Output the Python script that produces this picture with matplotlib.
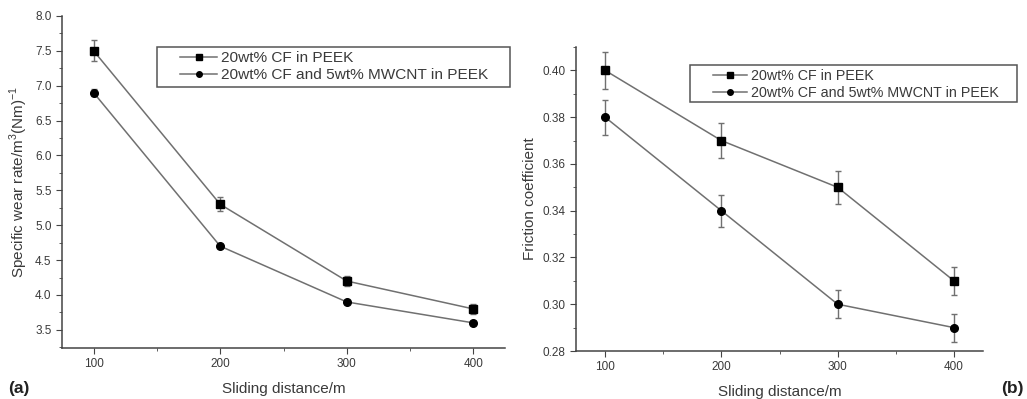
import numpy as np
import matplotlib
matplotlib.use("Agg")
import matplotlib.pyplot as plt
from matplotlib.ticker import MultipleLocator, FormatStrFormatter
from matplotlib.lines import Line2D
from matplotlib.patches import Rectangle

plt.rcParams["font.family"] = ["Liberation Sans", "DejaVu Sans"]
plt.rcParams["mathtext.fontset"] = "custom"
plt.rcParams["mathtext.rm"] = "Liberation Sans"

# data
distance = [100, 200, 300, 400]
labels = ["20wt% CF in PEEK", "20wt% CF and 5wt% MWCNT in PEEK"]
markers = ["s", "o"]

wear_cf = [7.5, 5.3, 4.2, 3.8]
wear_cf_err = [0.15, 0.10, 0.07, 0.07]
wear_cnt = [6.9, 4.7, 3.9, 3.6]
wear_cnt_err = [0.05, 0.03, 0.03, 0.03]

fric_cf = [0.40, 0.37, 0.35, 0.31]
fric_cf_err = [0.008, 0.0075, 0.007, 0.006]
fric_cnt = [0.38, 0.34, 0.30, 0.29]
fric_cnt_err = [0.0075, 0.0068, 0.006, 0.006]

text_c = "#3a3a3a"
line_c = "#707070"
W, H = 1027, 399

fig = plt.figure(figsize=(W / 100, H / 100), dpi=100)
ax1 = fig.add_axes([62 / W, 1 - 348 / H, 443 / W, 332 / H])
ax2 = fig.add_axes([576 / W, 1 - 351 / H, 407 / W, 304 / H])


def draw(ax, y1, e1, y2, e2):
    for y, e, m in [(y1, e1, markers[0]), (y2, e2, markers[1])]:
        ax.errorbar(distance, y, yerr=e, color=line_c, lw=1.1, marker=m,
                    ms=5.5, mfc="black", mec="black", ecolor=line_c,
                    elinewidth=1, capsize=2.5, capthick=1)
    for s in ["top", "right"]:
        ax.spines[s].set_visible(False)
    for s in ["left", "bottom"]:
        ax.spines[s].set_color("#444444")
        ax.spines[s].set_linewidth(1.1)
    ax.set_xlim(75, 425)
    ax.set_xticks(distance)
    ax.xaxis.set_minor_locator(MultipleLocator(50))
    ax.tick_params(which="both", direction="out", colors="#444444",
                   labelcolor=text_c, labelsize=8.5)
    ax.tick_params(which="major", length=4)
    ax.tick_params(which="minor", length=2)
    ax.set_xlabel("Sliding distance/m", fontsize=11, color=text_c, labelpad=8)


def legend(ax, x0, y0, x1, y1, hx, fs):
    # legend frame drawn in figure pixels, entries placed inside it
    fig.patches.append(Rectangle((x0 / W, 1 - y1 / H), (x1 - x0) / W, (y1 - y0) / H,
                                 transform=fig.transFigure, fill=False,
                                 ec="#555555", lw=1.1))
    handles = [Line2D([], [], color=line_c, lw=1.1, marker=m, ms=4,
                      mfc="black", mec="black") for m in markers]
    ax.legend(handles, labels, loc="upper left",
              bbox_to_anchor=(hx / W, 1 - (y0 + 4) / H),
              bbox_transform=fig.transFigure, fontsize=fs, frameon=False,
              handlelength=2.4, handletextpad=0.25, borderpad=0,
              labelspacing=0.2, borderaxespad=0, labelcolor=text_c)


draw(ax1, wear_cf, wear_cf_err, wear_cnt, wear_cnt_err)
ax1.set_ylim(3.24, 8.0)
ax1.yaxis.set_major_locator(MultipleLocator(0.5))
ax1.yaxis.set_minor_locator(MultipleLocator(0.25))
ax1.yaxis.set_major_formatter(FormatStrFormatter("%.1f"))
ax1.set_ylabel("Specific wear rate/m$^3$(Nm)$^{-1}$", fontsize=11, color=text_c)
legend(ax1, 157, 47, 510, 87, 180, 11.1)

draw(ax2, fric_cf, fric_cf_err, fric_cnt, fric_cnt_err)
ax2.set_ylim(0.28, 0.41)
ax2.yaxis.set_major_locator(MultipleLocator(0.02))
ax2.yaxis.set_minor_locator(MultipleLocator(0.01))
ax2.yaxis.set_major_formatter(FormatStrFormatter("%.2f"))
ax2.set_ylabel("Friction coefficient", fontsize=11, color=text_c)
legend(ax2, 690, 65, 1017, 102, 713, 10.3)

fig.text(0.008, 0.015, "(a)", fontsize=12.5, fontweight="bold", color="#222222")
fig.text(0.975, 0.015, "(b)", fontsize=12.5, fontweight="bold", color="#222222")

fig.savefig("out.png", dpi=100, facecolor="white")
